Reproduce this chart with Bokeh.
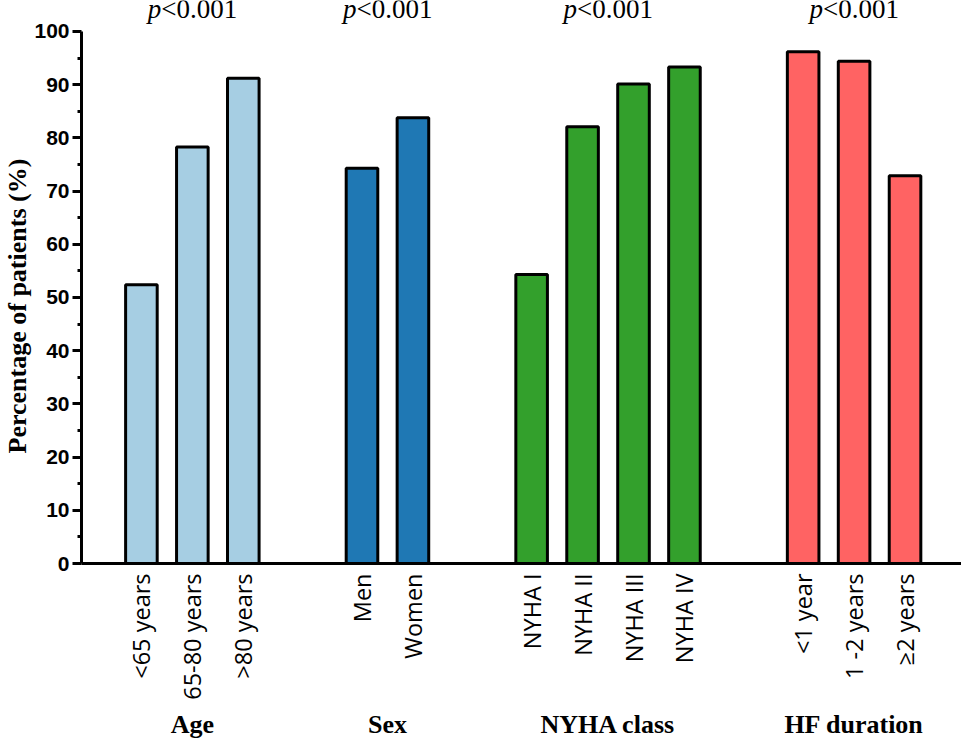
import math
from bokeh.plotting import figure
from bokeh.models import ColumnDataSource, FixedTicker, Range1d, LinearAxis, Title
from bokeh.core.properties import value
from bokeh.embed import file_html
from bokeh.resources import INLINE

# ---- data ----
groups = ["Age", "Sex", "NYHA class", "HF duration"]
p_values = ["<0.001", "<0.001", "<0.001", "<0.001"]
age_labels = ["<65 years", "65-80 years", ">80 years"]
age_values = [52.4, 78.3, 91.2]
sex_labels = ["Men", "Women"]
sex_values = [74.3, 83.8]
nyha_labels = ["NYHA I", "NYHA II", "NYHA III", "NYHA IV"]
nyha_values = [54.3, 82.1, 90.1, 93.3]
hf_labels = ["<1 year", "1 -2 years", "\u22652 years"]
hf_values = [96.2, 94.4, 72.9]
y_ticks = [0, 10, 20, 30, 40, 50, 60, 70, 80, 90, 100]
y_minor = [5, 15, 25, 35, 45, 55, 65, 75, 85, 95]

group_labels = [age_labels, sex_labels, nyha_labels, hf_labels]
group_values = [age_values, sex_values, nyha_values, hf_values]
group_colors = ["#a6cee3", "#1f78b4", "#33a02c", "#ff6363"]

# ---- layout ----
W, H = 961, 741
LEFT, TOP_PAD, BOTTOM = 80, 31, 177
SLOT = 51.0
frame_w = W - LEFT
frame_h = H - BOTTOM
y_end = 100.0 * frame_h / (frame_h - TOP_PAD)

start = 1.176
gap = 2.33
xs, labs, vals, cols, centers = [], [], [], [], []
pos = start
for labels_, values_, c in zip(group_labels, group_values, group_colors):
    gx = []
    for l, v in zip(labels_, values_):
        xs.append(pos); labs.append(l); vals.append(v); cols.append(c)
        gx.append(pos)
        pos += 1
    centers.append(sum(gx) / len(gx))
    pos += gap - 1
x_end = frame_w / SLOT

src = ColumnDataSource(dict(x=xs, top=vals, color=cols))
p_y = 100 + 22.5 / ((frame_h - TOP_PAD) / 100.0)
psrc = ColumnDataSource(dict(x=centers, y=[p_y] * len(centers), t=p_values,
                             pp=["p"] * len(centers)))

p = figure(width=W, height=H, output_backend="svg", toolbar_location=None,
           x_range=Range1d(0, x_end), y_range=Range1d(0, y_end),
           min_border_left=LEFT, min_border_right=0, min_border_top=0,
           min_border_bottom=BOTTOM)
p.outline_line_color = None
p.xgrid.visible = False
p.ygrid.visible = False

p.vbar(x="x", top="top", bottom=0, width=0.62, fill_color="color",
       line_color="black", line_width=3, source=src)

# p-values
p.text(x="x", y="y", text="pp", source=psrc, x_offset=-31, text_align="right",
       text_baseline="middle", text_font=value("Liberation Serif"),
       text_font_style="italic", text_font_size="27px", text_color="black")
p.text(x="x", y="y", text="t", source=psrc, x_offset=-31, text_align="left",
       text_baseline="middle", text_font=value("Liberation Serif"),
       text_font_size="27px", text_color="black")

# y axis
ya = p.yaxis[0]
ya.bounds = (0, 100)
ya.ticker = FixedTicker(ticks=y_ticks, minor_ticks=y_minor)
ya.axis_line_width = 3
ya.major_tick_line_width = 3
ya.minor_tick_line_width = 3
ya.major_tick_out = 9
ya.major_tick_in = 0
ya.minor_tick_out = 4
ya.minor_tick_in = 0
ya.major_label_standoff = 3
ya.major_label_text_font = "Liberation Sans"
ya.major_label_text_font_style = "bold"
ya.major_label_text_font_size = "21px"
ya.major_label_text_color = "black"

ytitle = Title(text="Percentage of patients (%)", align="left", offset=110,
               standoff=0, text_font="Liberation Serif", text_font_style="bold",
               text_font_size="26px", text_color="black")
p.add_layout(ytitle, "left")

# x axis (categories)
xa = p.xaxis[0]
xa.ticker = FixedTicker(ticks=xs)
xa.major_label_overrides = {x: l for x, l in zip(xs, labs)}
xa.major_label_orientation = math.pi / 2
xa.axis_line_width = 3
xa.major_tick_line_color = None
xa.minor_tick_line_color = None
xa.major_tick_out = 0
xa.major_tick_in = 0
xa.major_label_standoff = 10
xa.major_label_text_font = "Open Sans"
xa.major_label_text_font_size = "23.5px"
xa.major_label_text_color = "black"

# group labels axis
ga = LinearAxis(ticker=FixedTicker(ticks=centers),
                major_label_overrides={c: g for c, g in zip(centers, groups)},
                axis_line_color=None, major_tick_line_color=None,
                minor_tick_line_color=None, major_tick_out=0, major_tick_in=0,
                major_label_standoff=7,
                major_label_text_font="Liberation Serif",
                major_label_text_font_style="bold",
                major_label_text_font_size="26px",
                major_label_text_color="black")
p.add_layout(ga, "below")

open("out.html", "w").write(file_html(p, INLINE))
